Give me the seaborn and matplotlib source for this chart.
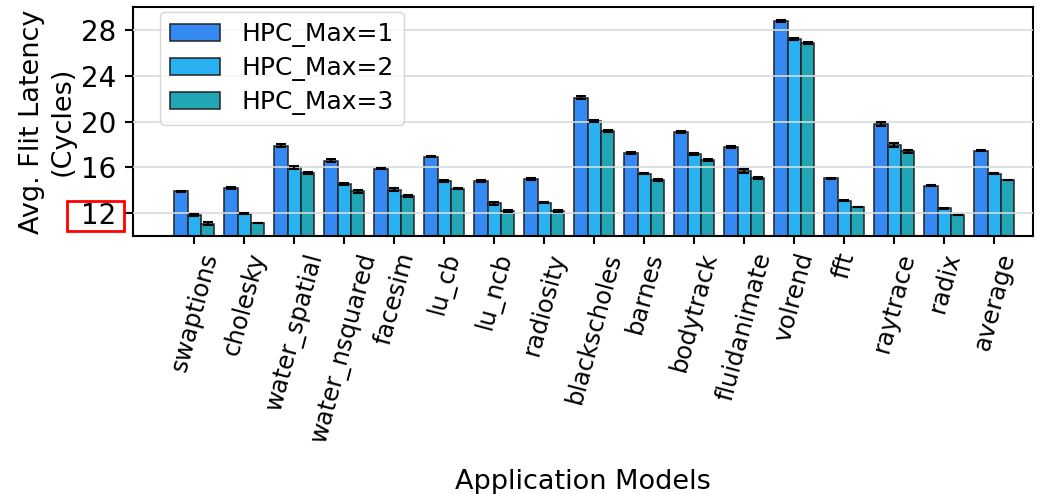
import matplotlib
matplotlib.use("Agg")
import matplotlib.pyplot as plt
import seaborn as sns
import pandas as pd
from matplotlib.patches import Rectangle

apps = ["swaptions", "cholesky", "water_spatial", "water_nsquared", "facesim",
        "lu_cb", "lu_ncb", "radiosity", "blackscholes", "barnes", "bodytrack",
        "fluidanimate", "volrend", "fft", "raytrace", "radix", "average"]
configs = ["HPC_Max=1", "HPC_Max=2", "HPC_Max=3"]

hpc1 = [13.9, 14.2, 17.9, 16.6, 15.9, 16.95, 14.8, 15.0, 22.1, 17.25, 19.1,
        17.8, 28.8, 15.05, 19.8, 14.4, 17.45]
hpc2 = [11.85, 11.95, 16.0, 14.55, 14.05, 14.8, 12.85, 12.9, 20.05, 15.45, 17.15,
        15.7, 27.2, 13.1, 17.95, 12.45, 15.45]
hpc3 = [11.1, 11.15, 15.5, 13.9, 13.5, 14.15, 12.2, 12.2, 19.2, 14.9, 16.65,
        15.1, 26.85, 12.55, 17.4, 11.85, 14.9]

err1 = [0.08, 0.05, 0.1, 0.15, 0.07, 0.06, 0.07, 0.06, 0.1, 0.1, 0.12,
        0.1, 0.1, 0.03, 0.15, 0.03, 0.03]
err2 = [0.1, 0.04, 0.12, 0.12, 0.15, 0.06, 0.12, 0.05, 0.12, 0.06, 0.08,
        0.15, 0.08, 0.04, 0.15, 0.04, 0.04]
err3 = [0.1, 0.03, 0.1, 0.12, 0.07, 0.06, 0.12, 0.06, 0.1, 0.05, 0.07,
        0.1, 0.12, 0.03, 0.15, 0.03, 0.04]

colors = ["#3489F2", "#2AB1F2", "#22A5B4"]
yticks = [12, 16, 20, 24, 28]

df = pd.DataFrame({
    "app": apps * 3,
    "latency": hpc1 + hpc2 + hpc3,
    "config": [c for c in configs for _ in apps],
})

sns.set_style("ticks")
plt.rcParams["font.family"] = ["DejaVu Sans"]
plt.rcParams["text.color"] = "black"
plt.rcParams["axes.labelcolor"] = "black"
plt.rcParams["xtick.color"] = "black"
plt.rcParams["ytick.color"] = "black"

fig = plt.figure(figsize=(10.47, 4.94), dpi=100)
ax = fig.add_axes([0.127, 0.522, 0.8596, 0.4638])

sns.barplot(data=df, x="app", y="latency", hue="config", palette=colors,
            edgecolor="#222222", linewidth=1.1, errorbar=None, ax=ax,
            saturation=1.0, width=0.8)

# error bars on top of each bar
for cont, errs in zip(ax.containers, [err1, err2, err3]):
    xs = [p.get_x() + p.get_width() / 2 for p in cont.patches]
    hs = [p.get_height() for p in cont.patches]
    ax.errorbar(xs, hs, yerr=errs, fmt="none", ecolor="black",
                elinewidth=1.5, capsize=3.5, capthick=1.5, zorder=5)

ax.set_ylim(10, 30)
ax.set_xlim(-1.23, 16.77)
ax.set_yticks(yticks)
ax.yaxis.grid(True, color="#d5dcdc", linewidth=1.2)
ax.set_axisbelow(False)
for s in ax.spines.values():
    s.set_linewidth(1.5)
    s.set_color("black")
ax.tick_params(axis="both", length=6, width=1.5, colors="black")
ax.tick_params(axis="y", labelsize=20, pad=6)
ax.tick_params(axis="x", labelsize=17.5, pad=4)
plt.setp(ax.get_xticklabels(), rotation=75)

ax.set_xlabel("Application Models", fontsize=19.5, labelpad=17)
ax.set_ylabel("Avg. Flit Latency\n(Cycles)", fontsize=19.5, labelpad=4)

leg = ax.legend(loc="upper left", bbox_to_anchor=(0.0246, 1.0), fontsize=18,
                frameon=True, handlelength=2.0, handleheight=0.7,
                handletextpad=0.85, borderpad=0.4, labelspacing=0.36,
                borderaxespad=0.2)
leg.get_frame().set_edgecolor("#cccccc")
for t in leg.get_texts():
    t.set_color("black")

# highlight around the lowest y tick label
fig.patches.append(Rectangle((67 / 1047, 1 - 231 / 494), 57 / 1047, 30 / 494,
                             transform=fig.transFigure, fill=False,
                             edgecolor="red", linewidth=2))

fig.savefig("out.png", dpi=100)
